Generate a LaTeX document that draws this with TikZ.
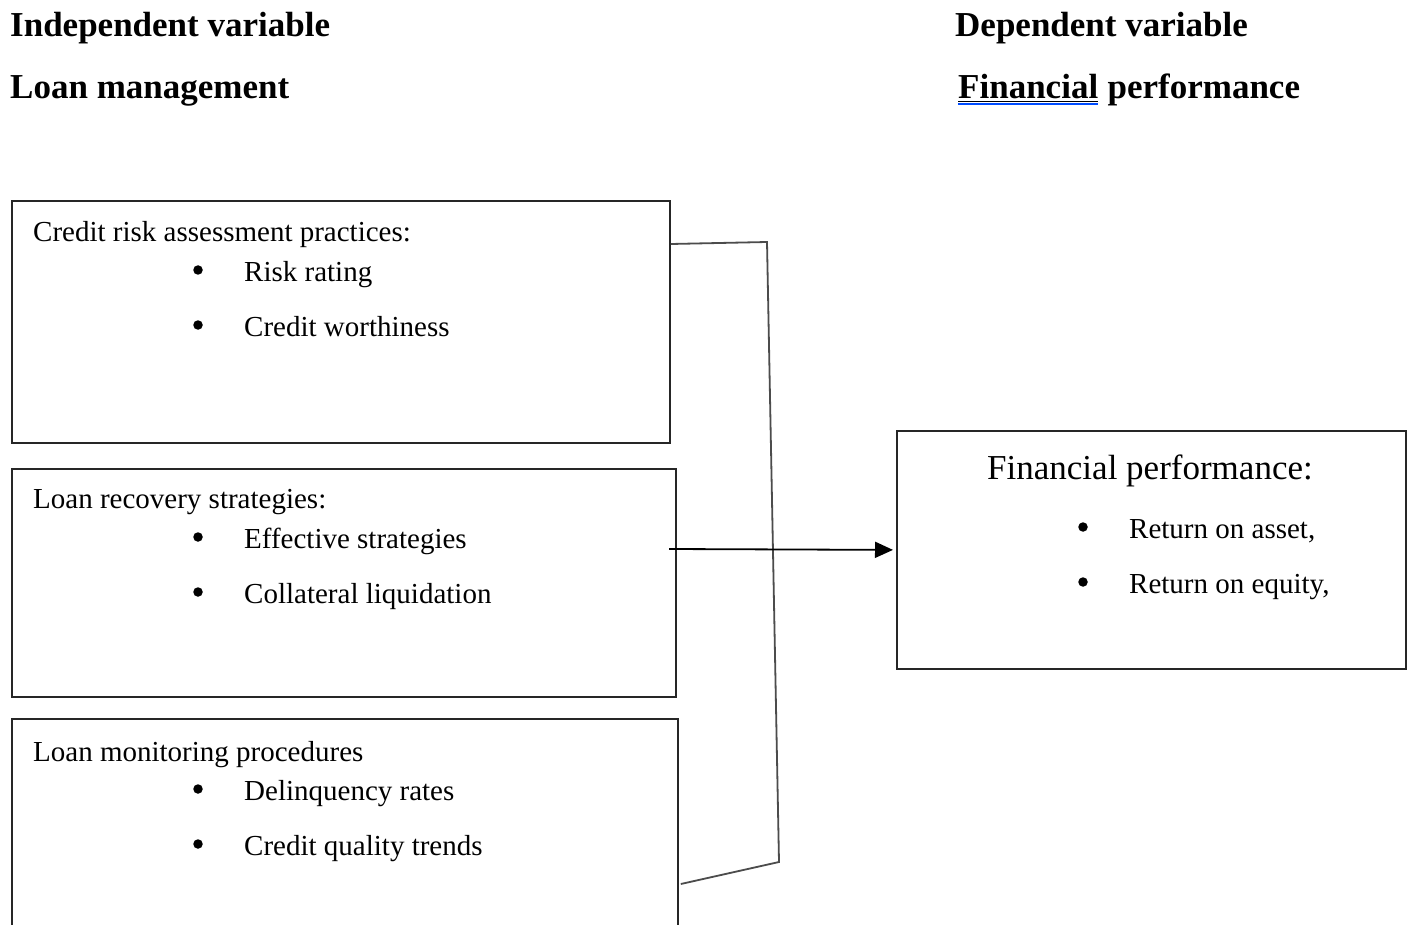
\documentclass[tikz,border=0pt]{standalone}
\usepackage{fontspec}
\setmainfont{Liberation Serif}
\usetikzlibrary{arrows.meta}
\begin{document}
\begin{tikzpicture}[x=1pt,y=-1pt,
  hd/.style={anchor=base west,inner sep=0pt,font=\fontsize{35}{40}\selectfont\bfseries},
  tx/.style={anchor=base west,inner sep=0pt,font=\fontsize{29}{34}\selectfont},
  big/.style={anchor=base west,inner sep=0pt,font=\fontsize{35}{40}\selectfont},
  bul/.style={circle,fill=black,inner sep=0pt,minimum size=9.5pt},
  box/.style={draw=black!85,line width=1.8pt,anchor=north west,inner sep=0pt},
  conn/.style={draw=black!70,line width=1.8pt},
  arr/.style={draw=black,line width=1.8pt,-{Triangle[length=18pt,width=16pt]}}
]
\path[use as bounding box] (0,0) rectangle (1410,925);
\clip (0,0) rectangle (1410,925);
\fill[white] (0,0) rectangle (1410,925);

% headings
\node[hd] (iv) at (10,37) {Independent variable};
\node[hd] (lm) at (10,99) {Loan management};
\node[hd] (dv) at (955,37) {Dependent variable};
\node[hd] (fin) at (958,99) {Financial};
\node[hd] (perf) at ([xshift=9pt]fin.base east) {performance};
\draw[black,line width=1.2pt] ([yshift=-2.5pt]fin.base west) -- ([yshift=-2.5pt]fin.base east);
\draw[blue!70!cyan,line width=2pt] ([yshift=-5.5pt]fin.base west) -- ([yshift=-5.5pt]fin.base east);

% boxes
\node[box,minimum width=658pt,minimum height=242pt] (b1) at (11,200) {};
\node[box,minimum width=664pt,minimum height=228pt] (b2) at (11,468) {};
\node[box,minimum width=666pt,minimum height=240pt] (b3) at (11,718) {};
\node[box,minimum width=509pt,minimum height=238pt] (fp) at (896,430) {};

% box 1 text
\node[tx] (t1) at (33,242) {Credit risk assessment practices:};
\node[bul] (p11) at (198,270) {};
\node[tx] (t11) at (244,281) {Risk rating};
\node[bul] (p12) at (198,325) {};
\node[tx] (t12) at (244,336) {Credit worthiness};

% box 2 text
\node[tx] (t2) at (33,508) {Loan recovery strategies:};
\node[bul] (p21) at (198,537) {};
\node[tx] (t21) at (244,548) {Effective strategies};
\node[bul] (p22) at (198,592) {};
\node[tx] (t22) at (244,603) {Collateral liquidation};

% box 3 text
\node[tx] (t3) at (33,761) {Loan monitoring procedures};
\node[bul] (p31) at (198,789) {};
\node[tx] (t31) at (244,800) {Delinquency rates};
\node[bul] (p32) at (198,844) {};
\node[tx] (t32) at (244,855) {Credit quality trends};

% right box text
\node[big] (tf) at (987,479) {Financial performance:};
\node[bul] (pf1) at (1083,527) {};
\node[tx] (tf1) at (1129,538) {Return on asset,};
\node[bul] (pf2) at (1083,582) {};
\node[tx] (tf2) at (1129,593) {Return on equity,};

% connectors
\coordinate (c1) at (767,242);
\coordinate (c2) at (779,862);
\coordinate (a0) at (669,549);
\draw[conn] ([yshift=-44pt]b1.north east) -- (c1) -- (c2) -- ([xshift=2pt,yshift=-166pt]b3.north east);
\draw[arr] (a0) -- ([xshift=-3pt]fp.west);
\end{tikzpicture}
\end{document}
